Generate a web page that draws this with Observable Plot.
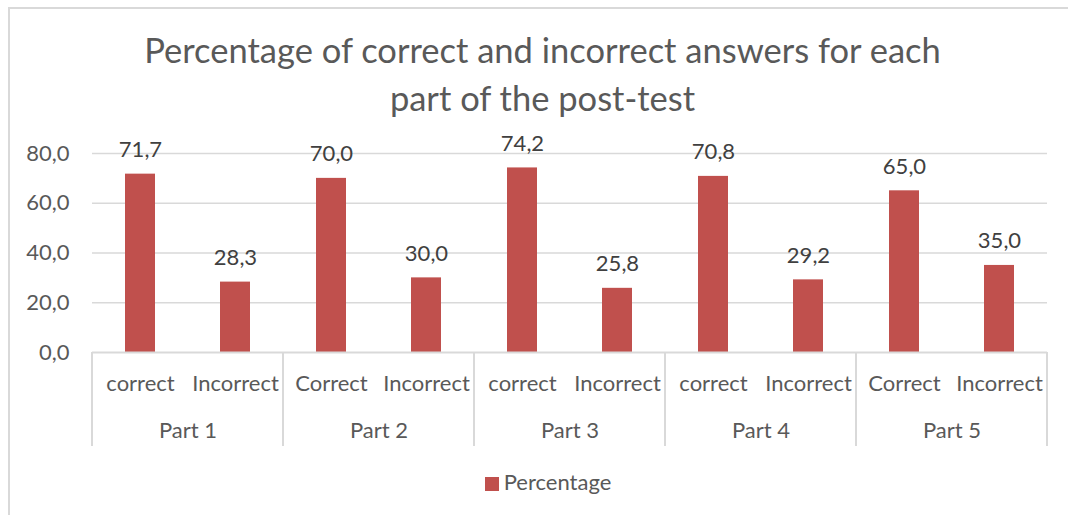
<!DOCTYPE html>
<html>
<head>
<meta charset="utf-8">
<script src="https://cdn.jsdelivr.net/npm/d3@7"></script>
<script src="https://cdn.jsdelivr.net/npm/@observablehq/plot@0.6"></script>
<style>
  html, body { margin: 0; padding: 0; background: #fff; overflow: hidden; }
  #wrap { position: relative; width: 1068px; height: 515px; font-family: Lato, sans-serif; color: #595959; }
  #border { position: absolute; left: 8px; top: 7px; width: 1200px; height: 600px; border-left: 2px solid #d9d9d9; border-top: 2px solid #d9d9d9; }
  #title { position: absolute; left: 0; top: 26px; width: 1085px; text-align: center; font-size: 34.5px; line-height: 48px; }
  #chart { position: absolute; left: 0; top: 130px; }
  #legend { position: absolute; left: 0; top: 468px; width: 1096px; text-align: center; font-size: 22px; line-height: 28px; }
  #legend .sw { display: inline-block; width: 14px; height: 14px; background: #c0504d; margin-right: 5px; vertical-align: -1px; }
</style>
</head>
<body>
<div id="wrap">
  <div id="border"></div>
  <div id="title">Percentage of correct and incorrect answers for each<br>part of the post-test</div>
  <div id="chart"></div>
  <div id="legend"><span class="sw"></span>Percentage</div>
</div>
<script>
const parts = ["Part 1", "Part 2", "Part 3", "Part 4", "Part 5"];
const answerLabels = [
  ["correct", "Incorrect"],
  ["Correct", "Incorrect"],
  ["correct", "Incorrect"],
  ["correct", "Incorrect"],
  ["Correct", "Incorrect"]
];
const percentages = [
  [71.7, 28.3],
  [70.0, 30.0],
  [74.2, 25.8],
  [70.8, 29.2],
  [65.0, 35.0]
];
const yTicks = [0, 20, 40, 60, 80];
const seriesName = "Percentage";

const data = [];
parts.forEach((p, i) => {
  answerLabels[i].forEach((a, j) => {
    data.push({part: p, slot: j, answer: a, value: percentages[i][j]});
  });
});

const fmt = v => v.toFixed(1).replace(".", ",");
const grid = "#d9d9d9";
const barColor = "#c0504d";

const plot = Plot.plot({
  width: 1068,
  height: 330,
  marginLeft: 91,
  marginRight: 20,
  marginTop: 23,
  marginBottom: 108,
  style: {fontFamily: "Lato, sans-serif", fontSize: "22px", color: "#595959", background: "transparent", overflow: "visible"},
  fx: {domain: parts, padding: 0, axis: null},
  x: {domain: [0, 1], paddingInner: 0.686, paddingOuter: 0.343, axis: null},
  y: {domain: [0, 80], axis: null},
  marks: [
    Plot.gridY(yTicks.filter(d => d > 0), {stroke: grid, strokeOpacity: 1, strokeWidth: 1.5}),
    Plot.axisY(yTicks, {label: null, tickSize: 0, tickPadding: 23, tickFormat: fmt, fontSize: 22, fill: "#595959"}),
    Plot.barY(data, {fx: "part", x: "slot", y: "value", fill: barColor}),
    Plot.ruleY([0], {stroke: grid, strokeWidth: 2}),
    Plot.text(data, {fx: "part", x: "slot", y: "value", text: d => fmt(d.value), dy: -24, lineAnchor: "middle", fill: "#404040", fontSize: 22}),
    Plot.text(data, {fx: "part", x: "slot", text: "answer", frameAnchor: "bottom", dy: 31, lineAnchor: "middle", fill: "#595959", fontSize: 22}),
    Plot.text(parts, {fx: d => d, text: d => d, frameAnchor: "bottom", dy: 78, lineAnchor: "middle", fill: "#595959", fontSize: 22})
  ]
});

document.getElementById("chart").appendChild(plot);

// Multi-level category axis separators, placed with the plot's own fx scale
const fx = plot.scale("fx");
const yS = plot.scale("y");
const y0 = yS.apply(0);
const edges = parts.map(p => fx.apply(p));
edges.push(fx.apply(parts[parts.length - 1]) + fx.bandwidth);
const svg = d3.select(plot);
svg.append("g")
  .selectAll("line")
  .data(edges)
  .join("line")
  .attr("x1", d => d).attr("x2", d => d)
  .attr("y1", y0).attr("y2", y0 + 94)
  .attr("stroke", grid).attr("stroke-width", 2);
</script>
</body>
</html>
